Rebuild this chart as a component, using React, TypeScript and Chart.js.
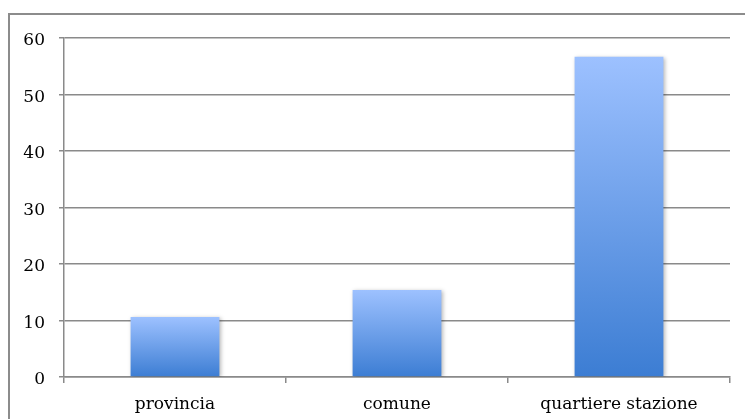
import { useEffect, useRef } from "react";
import { Chart, registerables } from "chart.js";

Chart.register(...registerables);

const categories = ["provincia", "comune", "quartiere stazione"];
const values = [10.6, 15.4, 56.7];
const yMin = 0;
const yMax = 60;
const yStep = 10;

const GRID = "#8a8a8a";
const FONT = { family: "'DejaVu Serif', serif", size: 17 };

const shadowPlugin = {
  id: "barShadow",
  beforeDatasetsDraw(chart: any) {
    const ctx = chart.ctx;
    ctx.save();
    ctx.shadowColor = "rgba(0,0,0,0.28)";
    ctx.shadowBlur = 4;
    ctx.shadowOffsetX = 1.5;
    ctx.shadowOffsetY = 1;
  },
  afterDatasetsDraw(chart: any) {
    chart.ctx.restore();
  },
};

export default function App() {
  const ref = useRef<HTMLCanvasElement | null>(null);

  useEffect(() => {
    if (!ref.current) return;
    const chart = new Chart(ref.current, {
      type: "bar",
      data: {
        labels: categories,
        datasets: [
          {
            data: values,
            barPercentage: 0.4,
            categoryPercentage: 1,
            borderWidth: 0,
            backgroundColor: (c: any) => {
              const ch = c.chart;
              const ys = ch.scales?.y;
              if (!ys || c.parsed == null) return "#6a9de8";
              const top = ys.getPixelForValue(c.parsed.y);
              const bottom = ys.getPixelForValue(0);
              if (!isFinite(top) || !isFinite(bottom) || top === bottom) return "#6a9de8";
              const g = ch.ctx.createLinearGradient(0, top, 0, bottom);
              g.addColorStop(0, "#9dc1ff");
              g.addColorStop(1, "#3c7dd3");
              return g;
            },
          },
        ],
      },
      options: {
        responsive: false,
        animation: false,
        devicePixelRatio: 1,
        layout: { padding: { top: 38, right: 15, left: 0, bottom: 0 } },
        plugins: {
          legend: { display: false },
          tooltip: { enabled: false },
          title: { display: false },
        },
        scales: {
          x: {
            offset: true,
            grid: {
              display: true,
              offset: true,
              drawOnChartArea: false,
              drawTicks: true,
              tickLength: 6,
              color: GRID,
              lineWidth: 1.5,
            },
            border: { display: true, color: GRID, width: 1.5 },
            ticks: {
              color: "#000",
              font: FONT,
              padding: 11,
              maxRotation: 0,
              autoSkip: false,
            },
            afterFit: (s: any) => {
              s.height = 42;
            },
          },
          y: {
            min: yMin,
            max: yMax,
            grid: {
              color: GRID,
              lineWidth: 1.5,
              drawTicks: true,
              tickLength: 5,
            },
            border: { display: true, color: GRID, width: 1.5 },
            ticks: {
              stepSize: yStep,
              color: "#000",
              font: FONT,
              padding: 14,
              labelOffset: 3,
            },
            afterFit: (s: any) => {
              s.width = 64;
            },
          },
        },
      },
      plugins: [shadowPlugin],
    });
    return () => chart.destroy();
  }, []);

  return (
    <div
      style={{
        position: "fixed",
        left: 0,
        top: 0,
        width: 745,
        height: 419,
        background: "#fff",
        overflow: "hidden",
      }}
    >
      <div
        style={{
          position: "absolute",
          left: 8,
          top: 13,
          right: -4,
          bottom: -4,
          borderLeft: "2px solid #8c8c8c",
          borderTop: "2px solid #8c8c8c",
        }}
      />
      <canvas
        ref={ref}
        width={745}
        height={419}
        style={{ position: "absolute", left: 0, top: 0, width: 745, height: 419 }}
      />
    </div>
  );
}
